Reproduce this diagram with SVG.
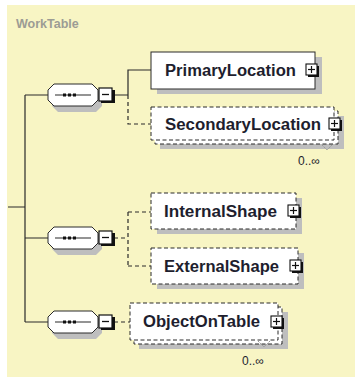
<svg xmlns="http://www.w3.org/2000/svg" width="355" height="378" viewBox="0 0 355 378">
<style>
.bg{fill:#F8F5C4}
.title{font-family:"Liberation Sans",Arial,sans-serif;font-weight:bold;font-size:12.5px;fill:#9C9C94}
.lbl{font-family:"Liberation Sans",Arial,sans-serif;font-weight:bold;font-size:16px;fill:#1E1E2E}
.occ{font-family:"Liberation Sans",Arial,sans-serif;font-size:12px;fill:#1E1E2E}
.box{fill:#fff;stroke:#2a2a2a;stroke-width:1}
.dbox{fill:#fff;stroke:#2a2a2a;stroke-width:1;stroke-dasharray:4 2.5}
.shadow{fill:#BEBEBE}
.line{fill:none;stroke:#2a2a2a;stroke-width:1.2}
.dline{fill:none;stroke:#2a2a2a;stroke-width:1.2;stroke-dasharray:4 3}
.pm{fill:none;stroke:#111;stroke-width:1.3}
.pmshadow{fill:#111}
</style>
<defs>
<g id="seq">
<path class="shadow" d="M10,-7 H48 L54,-1 V11 L48,17 H10 L4,11 V-1 Z"/>
<path class="box" d="M6,-11 H44 L50,-5 V5 L44,11 H6 L0,5 V-5 Z"/>
<line x1="7" y1="0" x2="43" y2="0" stroke="#2a2a2a" stroke-width="1.2"/>
<rect x="15" y="-1.5" width="3" height="3" fill="#111"/>
<rect x="20" y="-1.5" width="3" height="3" fill="#111"/>
<rect x="25" y="-1.5" width="3" height="3" fill="#111"/>
<rect x="53" y="-5" width="14" height="13" class="pmshadow"/>
<rect x="51" y="-7" width="13" height="13" fill="#fff" stroke="#111" stroke-width="1.2"/>
<line x1="54" y1="-0.5" x2="61" y2="-0.5" stroke="#111" stroke-width="1.3"/>
</g>
<g id="plus">
<rect x="2" y="2" width="11" height="11" class="pmshadow"/>
<rect x="0" y="0" width="11" height="11" fill="#fff" stroke="#111" stroke-width="1.1"/>
<line x1="5.5" y1="2" x2="5.5" y2="9" stroke="#111" stroke-width="1.2"/>
<line x1="2" y1="5.5" x2="9" y2="5.5" stroke="#111" stroke-width="1.2"/>
</g>
</defs>

<rect class="bg" x="7" y="5" width="348" height="372"/>
<text class="title" x="16" y="28">WorkTable</text>

<g id="connectors">
<path class="line" d="M8,207 H25 M25,95 V322 M25,95 H48 M25,238 H48 M25,322 H48"/>
<path class="line" d="M114,95 H128 M128,95 V70 H151"/>
<path class="dline" d="M128,95 V124 H151"/>
<path class="dline" d="M114,238 H128 M128,212 V266 M128,212 H151 M128,266 H151"/>
<path class="dline" d="M114,322 H130"/>
</g>

<g id="seq1"><use href="#seq" x="48" y="95"/></g>
<g id="seq2"><use href="#seq" x="48" y="238"/></g>
<g id="seq3"><use href="#seq" x="48" y="322"/></g>

<g id="PrimaryLocation">
<rect class="shadow" x="157" y="57" width="165" height="37"/>
<rect class="box" x="151" y="52" width="164" height="37"/>
<text class="lbl" x="165" y="76" textLength="131" lengthAdjust="spacingAndGlyphs">PrimaryLocation</text>
<use href="#plus" x="306" y="64"/>
</g>

<g id="SecondaryLocation">
<rect class="shadow" x="160" y="116" width="184" height="33"/>
<rect class="dbox" x="155" y="111" width="183" height="33"/>
<rect class="dbox" x="151" y="107" width="183" height="33"/>
<text class="lbl" x="165" y="130" textLength="156" lengthAdjust="spacingAndGlyphs">SecondaryLocation</text>
<use href="#plus" x="329" y="118"/>
<polyline points="322,145 327,150 332,145" fill="none" stroke="#999" stroke-width="1" stroke-dasharray="2 1"/>
<text class="occ" x="298" y="165">0..∞</text>
</g>

<g id="InternalShape">
<rect class="shadow" x="157" y="198" width="145" height="36"/>
<rect class="dbox" x="151" y="193" width="145" height="36"/>
<text class="lbl" x="164" y="217" textLength="113" lengthAdjust="spacingAndGlyphs">InternalShape</text>
<use href="#plus" x="288" y="205"/>
</g>

<g id="ExternalShape">
<rect class="shadow" x="157" y="253" width="147" height="36"/>
<rect class="dbox" x="151" y="248" width="147" height="36"/>
<text class="lbl" x="164" y="272" textLength="115" lengthAdjust="spacingAndGlyphs">ExternalShape</text>
<use href="#plus" x="290" y="260"/>
</g>

<g id="ObjectOnTable">
<rect class="shadow" x="139" y="312" width="149" height="37"/>
<rect class="dbox" x="134" y="307" width="148" height="37"/>
<rect class="dbox" x="130" y="303" width="148" height="37"/>
<text class="lbl" x="143" y="327" textLength="117" lengthAdjust="spacingAndGlyphs">ObjectOnTable</text>
<use href="#plus" x="271" y="316"/>
<polyline points="258,341 264,347 270,341" fill="none" stroke="#999" stroke-width="1" stroke-dasharray="2 1"/>
<text class="occ" x="242" y="365">0..∞</text>
</g>
</svg>
